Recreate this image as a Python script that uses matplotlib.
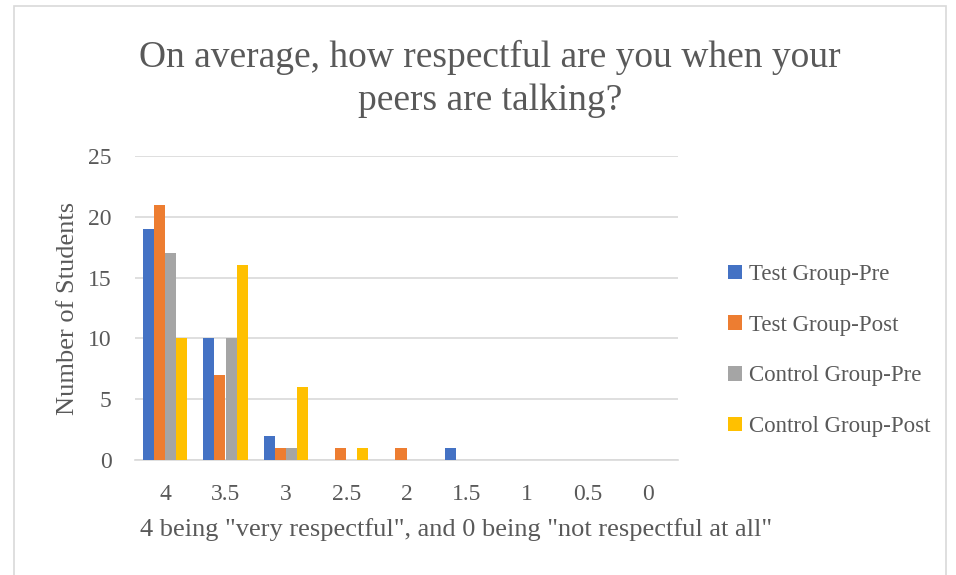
import matplotlib
matplotlib.use('Agg')
import matplotlib.pyplot as plt
import numpy as np
from matplotlib.patches import Rectangle

categories = ["4", "3.5", "3", "2.5", "2", "1.5", "1", "0.5", "0"]
test_pre = [19, 10, 2, 0, 0, 1, 0, 0, 0]
test_post = [21, 7, 1, 1, 1, 0, 0, 0, 0]
control_pre = [17, 10, 1, 0, 0, 0, 0, 0, 0]
control_post = [10, 16, 6, 1, 0, 0, 0, 0, 0]

series = [
    ("Test Group-Pre", test_pre, "#4472C4"),
    ("Test Group-Post", test_post, "#ED7D31"),
    ("Control Group-Pre", control_pre, "#A5A5A5"),
    ("Control Group-Post", control_post, "#FFC000"),
]

plt.rcParams['font.family'] = ['Liberation Serif', 'DejaVu Serif']
txt = '#595959'

fig = plt.figure(figsize=(9.56, 5.75), dpi=100)
# chart frame
fig.patches.append(Rectangle((14 / 956, -0.01), 0.99 - 14 / 956, 1.0, transform=fig.transFigure,
                             fill=False, ec='#d9d9d9', lw=1.2))

ax = fig.add_axes([135 / 956, 1 - 460 / 575, 543 / 956, 304 / 575])
x = np.arange(len(categories))
w = 0.185
for i, (name, vals, col) in enumerate(series):
    ax.bar(x + (i - 1.5) * w, vals, w, color=col, label=name, zorder=3)

ax.set_xlim(-0.5, len(categories) - 0.5)
ax.set_ylim(0, 25)
ax.set_yticks(range(0, 26, 5))
ax.set_xticks(x)
ax.set_xticklabels(categories)
ax.grid(axis='y', color='#d9d9d9', lw=1.2, zorder=0)
for s in ['top', 'right', 'left']:
    ax.spines[s].set_visible(False)
ax.spines['bottom'].set_color('#d9d9d9')
ax.spines['bottom'].set_linewidth(1.2)
ax.tick_params(length=0, labelsize=17, colors=txt)
ax.tick_params(axis='x', pad=17)
ax.tick_params(axis='y', pad=17)

ax.set_ylabel('Number of Students', fontsize=19, color=txt, labelpad=6)
fig.text(140 / 956, 1 - 530 / 575, '4 being "very respectful", and 0 being "not respectful at all"',
         fontsize=19, color=txt, va='center', ha='left')

fig.text(490 / 956, 1 - 79 / 575, 'On average, how respectful are you when your\npeers are talking?',
         fontsize=27, color=txt, ha='center', va='center', linespacing=1.35)

ax.legend(loc='center left', bbox_to_anchor=(593 / 543, 0.36), frameon=False,
          borderaxespad=0, borderpad=0,
          fontsize=16.5, labelcolor=txt, handlelength=0.6, handleheight=0.6,
          handletextpad=0.3, labelspacing=1.3)

fig.savefig('out.png', dpi=100)
